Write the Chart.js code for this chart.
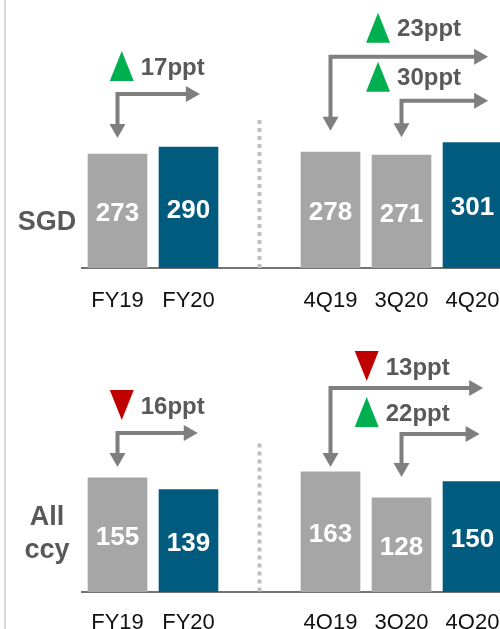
<!DOCTYPE html>
<html>
<head>
<meta charset="utf-8">
<script src="https://cdn.jsdelivr.net/npm/chart.js@4.4.1/dist/chart.umd.min.js"></script>
<style>
  html, body { margin: 0; padding: 0; background: #fff; overflow: hidden; }
  #wrap { position: relative; width: 500px; height: 629px; overflow: hidden; }
  #wrap canvas { position: absolute; left: 0; }
  #edge { position: absolute; left: 4px; top: 0; width: 2px; height: 629px; background: #D9D9D9; }
</style>
</head>
<body>
<div id="wrap">
  <div id="edge"></div>
  <canvas id="chart-sgd" width="510" height="320" style="top:0"></canvas>
  <canvas id="chart-all" width="510" height="309" style="top:320px"></canvas>
</div>
<script>
// ============ Data ============
const CATEGORIES = ['FY19', 'FY20', '', '4Q19', '3Q20', '4Q20'];
const SGD_VALUES = [273, 290, null, 278, 271, 301];
const ALL_CCY_VALUES = [155, 139, null, 163, 128, 150];

// change callouts: compared period -> latest period
const SGD_CHANGES = ['17ppt', '23ppt', '30ppt'];
const SGD_DIRECTIONS = ['up', 'up', 'up'];
const ALL_CCY_CHANGES = ['16ppt', '13ppt', '22ppt'];
const ALL_CCY_DIRECTIONS = ['down', 'down', 'up'];
const CHANGE_FROM = [0, 3, 4]; // FY19, 4Q19, 3Q20

// ============ Styles ============
const GREY = '#A6A6A6';
const TEAL = '#005B7F';
const BAR_COLORS = [GREY, TEAL, GREY, GREY, GREY, TEAL];
const TEXT_GREY = '#595959';
const ARROW_GREY = '#7F7F7F';
const UP_GREEN = '#00B050';
const DOWN_RED = '#C00000';
const FONT = '"Liberation Sans", Arial, sans-serif';

// callout placement (value units for y, category units for x)
// labelLine = tick label line height, used to push labels below the axis
const SGD_LAYOUT = {
  max: 641, axisHeight: 52, labelLine: 3.0, separatorTop: 354,
  rowLabel: ['SGD'], rowLabelY: 108,
  callouts: [
    { level: 416, tip: 311, end: 1.16, badgeX: 0.06, lift: 28 },
    { level: 505, tip: 328, end: 5.22, badgeX: 3.67, lift: 29 },
    { level: 400, tip: 313, end: 5.22, badgeX: 3.67, lift: 24 },
  ],
};
const ALL_CCY_LAYOUT = {
  max: 368, axisHeight: 37, labelLine: 2.85, separatorTop: 201,
  rowLabel: ['All', 'ccy'], rowLabelY: 79,
  callouts: [
    { level: 215, tip: 169, end: 1.13, badgeX: 0.06, lift: 28 },
    { level: 276, tip: 169, end: 5.15, badgeX: 3.51, lift: 22 },
    { level: 213.6, tip: 155.5, end: 5.10, badgeX: 3.51, lift: 22 },
  ],
};

function catX(scale, v) {
  return scale.getPixelForDecimal((v + 0.5) / CATEGORIES.length);
}

function drawArrowHead(ctx, x, y, dir) {
  const half = 8, len = 14;
  ctx.beginPath();
  if (dir === 'down') {
    ctx.moveTo(x - half, y - len); ctx.lineTo(x + half, y - len); ctx.lineTo(x, y);
  } else {
    ctx.moveTo(x - len, y - half); ctx.lineTo(x - len, y + half); ctx.lineTo(x, y);
  }
  ctx.closePath();
  ctx.fill();
}

const calloutPlugin = {
  id: 'callouts',
  afterDatasetsDraw(chart, args, opts) {
    const ctx = chart.ctx;
    const xs = chart.scales.x, ys = chart.scales.y;
    const area = chart.chartArea;
    const layout = opts.layout;

    ctx.save();
    // dotted separator between FY and quarterly groups
    ctx.strokeStyle = '#BFBFBF';
    ctx.lineWidth = 4;
    ctx.setLineDash([4, 4]);
    ctx.beginPath();
    const sx = catX(xs, 2);
    ctx.moveTo(sx, ys.getPixelForValue(layout.separatorTop));
    ctx.lineTo(sx, area.bottom);
    ctx.stroke();
    ctx.setLineDash([]);

    // values inside bars
    const meta = chart.getDatasetMeta(0);
    ctx.fillStyle = '#fff';
    ctx.font = 'bold 26px ' + FONT;
    ctx.textAlign = 'center';
    ctx.textBaseline = 'middle';
    meta.data.forEach((bar, i) => {
      const v = opts.values[i];
      if (v == null) return;
      ctx.fillText(String(v), bar.x, (bar.y + bar.base) / 2 + 3);
    });

    // row label
    ctx.fillStyle = TEXT_GREY;
    ctx.font = 'bold 27px ' + FONT;
    const ly = ys.getPixelForValue(layout.rowLabelY);
    const lines = layout.rowLabel;
    lines.forEach((t, k) => {
      ctx.fillText(t, area.left - 35, ly + (k - (lines.length - 1) / 2) * 33);
    });

    // change arrows
    layout.callouts.forEach((c, k) => {
      const x0 = catX(xs, CHANGE_FROM[k]);
      const yl = ys.getPixelForValue(c.level);
      const yt = ys.getPixelForValue(c.tip);
      const xe = catX(xs, c.end);
      ctx.strokeStyle = ARROW_GREY;
      ctx.fillStyle = ARROW_GREY;
      ctx.lineWidth = 4;
      ctx.lineJoin = 'miter';
      ctx.beginPath();
      ctx.moveTo(x0, yt - 12);
      ctx.lineTo(x0, yl);
      ctx.lineTo(xe - 12, yl);
      ctx.stroke();
      drawArrowHead(ctx, x0, yt, 'down');
      drawArrowHead(ctx, xe, yl, 'right');

      // badge triangle
      const bx = catX(xs, c.badgeX);
      const by = yl - c.lift;
      const up = opts.directions[k] === 'up';
      ctx.fillStyle = up ? UP_GREEN : DOWN_RED;
      ctx.beginPath();
      if (up) {
        ctx.moveTo(bx, by - 15); ctx.lineTo(bx + 12, by + 15); ctx.lineTo(bx - 12, by + 15);
      } else {
        ctx.moveTo(bx - 12, by - 15); ctx.lineTo(bx + 12, by - 15); ctx.lineTo(bx, by + 15);
      }
      ctx.closePath();
      ctx.fill();

      ctx.fillStyle = TEXT_GREY;
      ctx.font = 'bold 24px ' + FONT;
      ctx.textAlign = 'left';
      ctx.textBaseline = 'middle';
      ctx.fillText(opts.changes[k], bx + 19, by + 2);
      ctx.textAlign = 'center';
    });
    ctx.restore();
  },
};

function makeChart(canvasId, values, changes, directions, layout) {
  const ctx = document.getElementById(canvasId).getContext('2d');
  return new Chart(ctx, {
    type: 'bar',
    data: {
      labels: CATEGORIES,
      datasets: [{
        data: values,
        backgroundColor: BAR_COLORS,
        borderWidth: 0,
        barPercentage: 0.84,
        categoryPercentage: 1,
      }],
    },
    options: {
      responsive: false,
      animation: false,
      events: [],
      layout: { padding: { left: 82, right: 2, top: 0, bottom: 0 } },
      plugins: {
        legend: { display: false },
        tooltip: { enabled: false },
        callouts: { values, changes, directions, layout },
      },
      scales: {
        x: {
          grid: { display: false, drawTicks: false },
          border: { display: true, color: '#737373', width: 2 },
          ticks: {
            color: '#111',
            padding: 0,
            maxRotation: 0,
            font: { family: FONT, size: 22, lineHeight: layout.labelLine },
          },
          afterFit: s => { s.height = layout.axisHeight; },
        },
        y: { display: false, min: 0, max: layout.max },
      },
    },
    plugins: [calloutPlugin],
  });
}

makeChart('chart-sgd', SGD_VALUES, SGD_CHANGES, SGD_DIRECTIONS, SGD_LAYOUT);
makeChart('chart-all', ALL_CCY_VALUES, ALL_CCY_CHANGES, ALL_CCY_DIRECTIONS, ALL_CCY_LAYOUT);
</script>
</body>
</html>
